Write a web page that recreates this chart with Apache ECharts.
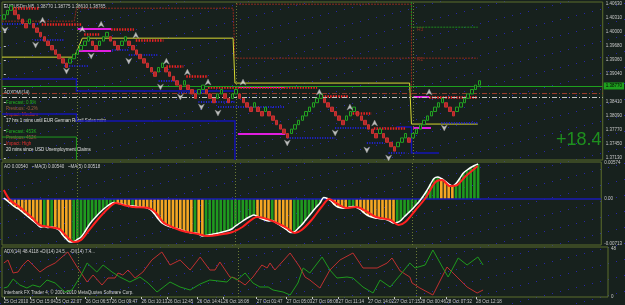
<!DOCTYPE html>
<html><head><meta charset="utf-8">
<script src="https://cdn.jsdelivr.net/npm/echarts@6/dist/echarts.min.js"></script>
<style>html,body{margin:0;padding:0;background:#17211d;}#c{width:625px;height:305px;background-color:#17211d;}</style>
</head><body><div id="c"></div>
<script>
const N_SLOTS = 163;
const brickSize = 0.0010;
const brickBase = 1.3709;
const brickLevels = [33,34,35,33,32,31,30,32,30,29,28,27,26,25,24,23,22,21,23,24,25,26,27,28,26,25,27,28,29,27,26,25,27,28,26,25,24,23,22,21,20,19,21,22,20,19,18,17,16,18,16,15,14,16,17,15,14,13,15,16,14,13,15,16,14,13,12,11,13,11,10,12,10,9,8,7,6,5,7,8,9,10,11,12,13,14,15,13,12,11,10,9,8,10,11,12,10,9,8,7,6,5,7,5,4,3,2,4,5,6,4,6,7,8,9,10,11,12,13,14,12,11,10,12,13,14,15,16,17,18];
const aoValues = [0.00016,-0.00032,-0.00080,-0.00128,-0.00160,-0.00208,-0.00256,-0.00304,-0.00352,-0.00400,-0.00448,-0.00440,-0.00456,-0.00448,-0.00464,-0.00496,-0.00576,-0.00640,-0.00688,-0.00683,-0.00648,-0.00608,-0.00528,-0.00432,-0.00352,-0.00288,-0.00224,-0.00168,-0.00120,-0.00080,-0.00056,-0.00069,-0.00080,-0.00096,-0.00112,-0.00106,-0.00120,-0.00128,-0.00133,-0.00144,-0.00176,-0.00240,-0.00320,-0.00384,-0.00416,-0.00440,-0.00456,-0.00472,-0.00488,-0.00512,-0.00528,-0.00544,-0.00538,-0.00560,-0.00592,-0.00584,-0.00573,-0.00560,-0.00549,-0.00536,-0.00520,-0.00504,-0.00480,-0.00432,-0.00392,-0.00352,-0.00312,-0.00280,-0.00256,-0.00280,-0.00312,-0.00336,-0.00352,-0.00344,-0.00376,-0.00416,-0.00456,-0.00496,-0.00536,-0.00528,-0.00472,-0.00416,-0.00344,-0.00272,-0.00200,-0.00128,-0.00064,0.00024,0.00008,-0.00032,-0.00096,-0.00133,-0.00144,-0.00149,-0.00128,-0.00120,-0.00136,-0.00168,-0.00224,-0.00264,-0.00288,-0.00304,-0.00312,-0.00320,-0.00328,-0.00352,-0.00384,-0.00376,-0.00344,-0.00280,-0.00224,-0.00168,-0.00104,-0.00040,0.00040,0.00128,0.00232,0.00328,0.00352,0.00328,0.00288,0.00240,0.00208,0.00248,0.00328,0.00416,0.00464,0.00504,0.00536,0.00560];
const aoSignal = [[0,0.00144],[1.65,-0.00016],[4.3,-0.00128],[7.8,-0.00304],[9.7,-0.00416],[12.4,-0.00448],[15.1,-0.00480],[17,-0.00592],[19.1,-0.00688],[21,-0.00656],[23.2,-0.00496],[25.9,-0.00304],[28.5,-0.00144],[30.4,-0.00064],[32.6,-0.00096],[35.3,-0.00128],[39.3,-0.00144],[41.2,-0.00208],[43.3,-0.00368],[45.2,-0.00432],[48.7,-0.00512],[52.8,-0.00560],[55.4,-0.00592],[58.2,-0.00576],[62.2,-0.00528],[64.9,-0.00448],[68.9,-0.00288],[71.6,-0.00320],[74.3,-0.00384],[77,-0.00464],[79.1,-0.00544],[81,-0.00496],[83.7,-0.00336],[86.4,-0.00128],[88.5,0],[90.4,-0.00064],[93.1,-0.00144],[95.8,-0.00128],[98.5,-0.00192],[101.2,-0.00288],[105.2,-0.00336],[107.4,-0.00416],[109.2,-0.00368],[112,-0.00176],[114.7,0.00016],[117.4,0.00272],[119.2,0.00304],[121.3,0.00208],[123.3,0.00224],[125.4,0.00352],[127.6,0.00464],[128.9,0.00528]];
const diMinus = [[0,34],[1.1,37],[2.5,24],[3.8,25],[5.1,32],[6.5,37],[7.8,32],[9.7,25],[11.6,30],[13.8,34],[17.2,45],[19.7,30],[22.4,15],[24,22],[26.4,12],[28,19],[29.9,19],[30.7,24],[32,22],[33.4,27],[35.3,19],[37.4,25],[39.8,37],[42.5,45],[44.7,32],[47.4,37],[50.1,27],[52.8,40],[55.4,27],[56.8,27],[58.1,35],[60.8,20],[62.2,19],[64.9,12],[67,20],[69.4,32],[70.8,29],[71.6,34],[72.9,27],[77,44],[79.6,30],[81,20],[82.3,17],[85,9],[87.7,27],[90.4,37],[93.9,44],[96.6,29],[100.4,29],[103.1,34],[104.4,39],[106.6,26],[109.2,20],[109.8,14],[111.9,9],[115.4,2],[119.2,30],[121.9,20],[124.6,10],[127.3,4],[128.9,7]];
const diPlus = [[0,9],[1,10],[2.5,18],[4.3,12],[6.2,9],[7.8,12],[9.7,10],[11.6,17],[13.8,14],[16.4,5],[18.3,7],[20.5,20],[22.4,34],[25,25],[26.7,32],[29.1,25],[31.2,20],[33.9,15],[36.6,20],[38.8,14],[41.2,5],[44.7,15],[47.4,10],[50.1,7],[52.8,13],[55.4,17],[60,15],[61.4,20],[62.7,17],[64.9,24],[67,14],[68.9,10],[71.1,10],[72.4,7],[75.1,5],[77,2],[79.1,14],[80.5,29],[82.3,24],[85.6,40],[87.7,27],[89.6,19],[92.3,20],[93.9,19],[96.6,10],[99.3,4],[101.2,17],[103.9,10],[106.6,22],[109.2,34],[110.6,29],[113.3,32],[115.4,47],[118.1,29],[119.5,20],[122.2,39],[124.6,32],[127.5,40],[128.9,32]];
// pivot-type step lines: [barIndex, price]
const pivotBrown = [[-0.5,1.40243],[19.1,1.40243],[19.7,1.40538],[62.2,1.40538],[62.7,1.39403],[128.6,1.39403]];
const pivotBrownTop = [[63,1.40629],[110.6,1.40629],[110.6,1.38518]];
const pivotGreenR3 = [[110.6,1.40679],[110.6,1.40107],[128.6,1.40107]];
const pivotYellow = [[-0.5,1.39426],[19.1,1.39426],[21.3,1.39857],[62.2,1.39857],[62.7,1.38836],[110.1,1.38836],[110.6,1.37905],[128.6,1.37905]];
const pivotGreenS = [[-0.5,1.37610],[19.7,1.37610],[19.7,1.37088]];
const blueLineA = [[-0.5,1.38927],[19.7,1.38927],[19.7,1.38655],[62.7,1.38655]];
const blueLineB = [[-0.5,1.38132],[19.7,1.38132],[19.7,1.37973],[62.7,1.37973],[62.7,1.37088]];
const blueLineC = [[106.5,1.37837],[110.6,1.37837],[110.6,1.37247],[118.1,1.37247]];
const magentaSegs = [[20,29.1,1.40062],[20,29.1,1.39562],[63.5,76.4,1.38745],[63.5,76.4,1.37678],[111.1,115.4,1.38518],[111.1,115.9,1.37814]];
const resistSegs = [[1.65,9.7,1.40538],[10.3,21,1.40175],[21.8,25.9,1.39948],[29.1,35.3,1.40062],[35.8,43.3,1.39812],[44.1,48.7,1.39222],[49.5,55.4,1.38995],[55.4,85,1.38745],[85.6,93.6,1.38541],[93.9,99.8,1.38155],[100.4,109.2,1.37814],[115.4,128.6,1.38518]];
const supportSegs = [[-0.5,9.7,1.40175],[8.4,16.4,1.39812],[16.4,23.2,1.39222],[29.4,33.9,1.39585],[33.9,42,1.39472],[42,47.4,1.38881],[47.4,55.4,1.38609],[52.8,62.7,1.38405],[58.1,76.4,1.38291],[76.9,89.9,1.37587],[89.9,98.5,1.37814],[98.5,103.1,1.37474],[104.4,109.2,1.37247],[118.7,128.6,1.37928]];
const upArrows = [[10.5,1.40266],[21.3,1.40062],[26.4,1.40175],[35.8,1.39926],[44.1,1.39335],[49.8,1.39086],[55.4,1.38859],[64.9,1.38859],[85.6,1.38632],[93.9,1.38291],[100.6,1.37928],[115.4,1.38632]];
const downArrows = [[0.3,1.40039],[8.6,1.39699],[17,1.39108],[23.7,1.39449],[33.9,1.39335],[42.5,1.38745],[47.9,1.38518],[53.6,1.38291],[58.1,1.38155],[76.9,1.37474],[89.9,1.37701],[98.5,1.37315],[104.4,1.37133],[119.5,1.37814]];
const levelBrownDashDot = 1.38609;
const levelGreyDashDot = 1.38518;
const timeLabels = ["25 Oct 2010","25 Oct 15:04","25 Oct 22:07","26 Oct 06:57","26 Oct 09:47","26 Oct 10:13","26 Oct 12:45","26 Oct 14:41","26 Oct 18:08","27 Oct 01:47","27 Oct 05:03","27 Oct 08:08","27 Oct 11:14","27 Oct 14:02","27 Oct 17:15","28 Oct 00:46","28 Oct 07:32","28 Oct 12:18"];
const timeLabelIdx = [0,7,14,22,29,37,44,52,59,68,76,83,90,98,105,112,119,127];
const priceTicks = [1.3713,1.3745,1.3777,1.3809,1.3841,1.3872,1.3904,1.3936,1.3968,1.4000,1.4031,1.4063];
const aoTicks = [-0.00713,0,0.00574];
const adxTicks = [0,48];
const daySeparatorIdx = [20,63,111];
const currentPrice = 1.3877;

// decorative dotted background texture (diagonal rows of dark-blue dots)
(function () {
  const t = document.createElement('canvas');
  t.width = 64; t.height = 16;
  const g = t.getContext('2d');
  g.fillStyle = '#2626a6';
  for (let x = 0; x < 64; x += 8) g.fillRect(x, 15 - Math.floor(x / 4), 1, 1);
  document.getElementById('c').style.backgroundImage = 'url(' + t.toDataURL() + ')';
})();

const cats = Array.from({length:N_SLOTS}, () => '');
timeLabelIdx.forEach((k, j) => { cats[k] = timeLabels[j]; });

const candles = brickLevels.map((L, i) => {
  const up = i === 0 ? true : L > brickLevels[i - 1];
  const close = brickBase + L * brickSize;
  const open = up ? close - brickSize : close + brickSize;
  return [open, close, Math.min(open, close), Math.max(open, close)];
});
const aoBars = aoValues.map((v, i) => ({
  value: v,
  itemStyle: { color: (i > 0 && v > aoValues[i - 1]) ? '#1f9a1f' : '#f5a623' }
}));

const FONT = 'Liberation Sans';
const OLIVE = '#5d6e2c';
const SEP_STYLE = { color: '#6b7a35', type: [1, 2], width: 1 };
const sepLine = () => ({
  silent: true, symbol: 'none', precision: 6,
  lineStyle: SEP_STYLE,
  label: { show: false },
  data: daySeparatorIdx.map(v => ({ xAxis: v }))
});
const hiddenCat = (g) => ({ type:'category', gridIndex:g, data:cats, boundaryGap:true, axisLine:{show:false}, axisTick:{show:false}, axisLabel:{show:false}, splitLine:{show:false} });
const hiddenVal = (g) => ({ type:'value', gridIndex:g, min:-0.5, max:N_SLOTS-0.5, show:false });
const yLab = { fontSize: 4.5, color: '#c8c8c8', fontFamily: FONT, margin: 3 };
const segLines = (segs, color, width, type, z) => ({
  type:'lines', coordinateSystem:'cartesian2d', xAxisIndex:1, yAxisIndex:0, silent:true, z: z || 3,
  lineStyle:{ color, width, type, opacity:1 },
  data: segs.map(s => ({ coords: [[s[0], s[2]], [s[1], s[2]]] }))
});
const polyLine = (pts, color, width, type) => ({
  type:'lines', coordinateSystem:'cartesian2d', xAxisIndex:1, yAxisIndex:0, polyline:true, silent:true, z:2,
  lineStyle:{ color, width, type, opacity:1 },
  data: [{ coords: pts }]
});
const arrowPath = 'path://M5,0 L10,10 L5,7 L0,10 Z';

const mainMarkLines = [
  ...daySeparatorIdx.map(v => ({ xAxis: v, lineStyle: SEP_STYLE, label: { show:false } })),
  { yAxis: levelBrownDashDot, lineStyle:{ color:'#9a3a2a', type:[5,2,1,2], width:1 }, label:{ show:false } },
  { yAxis: levelGreyDashDot, lineStyle:{ color:'#c8c8c8', type:[5,2,1,2], width:1 }, label:{ show:false } },
  { yAxis: currentPrice, lineStyle:{ color:'#1ea01e', type:'solid', width:1 },
    label:{ show:true, position:'end', formatter: () => currentPrice.toFixed(5), backgroundColor:'#1ea01e', color:'#000', fontSize:4.5, fontFamily:FONT, padding:[1,2], distance:1 } }
];

const option = {
  backgroundColor: 'transparent',
  animation: false,
  grid: [
    { left:2, top:2, width:606, height:158, show:true, borderColor:OLIVE, borderWidth:1, backgroundColor:'transparent' },
    { left:2, top:162, width:606, height:83, show:true, borderColor:OLIVE, borderWidth:1, backgroundColor:'transparent' },
    { left:2, top:247, width:606, height:50, show:true, borderColor:OLIVE, borderWidth:1, backgroundColor:'transparent' }
  ],
  xAxis: [
    hiddenCat(0), hiddenVal(0), hiddenCat(1), hiddenVal(1),
    { type:'category', gridIndex:2, data:cats, boundaryGap:true, axisLine:{show:false},
      axisTick:{show:true, alignWithLabel:true, interval:(i, v) => v !== '', length:2, lineStyle:{color:'#c8c8c8'}},
      axisLabel:{show:true, interval:0, fontSize:4.5, color:'#c8c8c8', fontFamily:FONT, align:'left', margin:2},
      splitLine:{show:false} },
    hiddenVal(2)
  ],
  yAxis: [
    { type:'value', gridIndex:0, position:'right', min:1.37088, max:1.40679, scale:true, splitLine:{show:false}, axisLine:{show:false},
      axisTick:{show:true, customValues:priceTicks, length:2, lineStyle:{color:'#c8c8c8'}},
      axisLabel:Object.assign({ customValues:priceTicks, formatter:v => v.toFixed(5) }, yLab) },
    { type:'value', gridIndex:1, position:'right', min:-0.00736, max:0.00592, splitLine:{show:false}, axisLine:{show:false},
      axisTick:{show:false},
      axisLabel:Object.assign({ customValues:aoTicks, formatter:v => v === 0 ? '0.00' : v.toFixed(5) }, yLab) },
    { type:'value', gridIndex:2, position:'right', min:0, max:50, splitLine:{show:false}, axisLine:{show:false},
      axisTick:{show:false},
      axisLabel:Object.assign({ customValues:adxTicks, formatter:v => String(v) }, yLab) }
  ],
  series: [
    polyLine(pivotBrown, '#8e2a1e', 1, [2,1]),
    polyLine(pivotBrownTop, '#8e2a1e', 1, [2,1]),
    polyLine(pivotGreenR3, '#1f8a1f', 1, [2,1]),
    polyLine(pivotYellow, '#d8d832', 1, 'solid'),
    polyLine(pivotGreenS, '#1f9a1f', 1, 'solid'),
    polyLine(blueLineA, '#1414b4', 1.5, 'solid'),
    polyLine(blueLineB, '#1414b4', 1.5, 'solid'),
    polyLine(blueLineC, '#1414b4', 1.5, 'solid'),
    segLines(magentaSegs, '#e01ee0', 2, 'solid', 3),
    segLines(supportSegs, '#2222e0', 2, [1,1.5], 4),
    segLines(resistSegs, '#ee2222', 2.5, [1.5,1.2], 4),
    { type:'candlestick', xAxisIndex:0, yAxisIndex:0, data:candles, barWidth:3, z:5,
      itemStyle:{ color:'#17211d', color0:'#b52828', borderColor:'#22a322', borderColor0:'#c83232', borderWidth:1 },
      markLine:{ silent:true, symbol:'none', precision:6, data: mainMarkLines } },
    { type:'scatter', xAxisIndex:1, yAxisIndex:0, data:upArrows, symbol:arrowPath, symbolSize:[6,6], z:8,
      itemStyle:{ color:'#e8e8e8', borderColor:'#909090', borderWidth:0.5 } },
    { type:'scatter', xAxisIndex:1, yAxisIndex:0, data:downArrows, symbol:arrowPath, symbolSize:[6,6], symbolRotate:180, z:8,
      itemStyle:{ color:'#e8e8e8', borderColor:'#909090', borderWidth:0.5 } },
    { type:'bar', xAxisIndex:2, yAxisIndex:1, data:aoBars, barWidth:2.6,
      markLine:{ silent:true, symbol:'none', precision:6, lineStyle:{color:'#1a1ab4', type:'solid', width:1.5}, label:{show:false}, data:[{ yAxis: 0 }] } },
    { type:'line', xAxisIndex:2, yAxisIndex:1, data:aoValues, symbol:'none', smooth:0.3, lineStyle:{color:'#ffffff', width:1.5}, z:5, markLine: sepLine() },
    { type:'line', xAxisIndex:3, yAxisIndex:1, data:aoSignal, symbol:'none', smooth:0.3, lineStyle:{color:'#ff2020', width:2}, z:6 },
    { type:'line', xAxisIndex:5, yAxisIndex:2, data:diMinus, symbol:'none', lineStyle:{color:'#c03030', width:1}, markLine: sepLine() },
    { type:'line', xAxisIndex:5, yAxisIndex:2, data:diPlus, symbol:'none', lineStyle:{color:'#1f9a1f', width:1} }
  ],
  graphic: [
    { type:'text', left:4, top:4, style:{ text:'EURUSDm,M5  1.38770 1.38775 1.38610 1.38765', fill:'#d0d0d0', font:'4.5px '+FONT } },
    { type:'text', left:4, top:90, style:{ text:'ADXDMI(14)', fill:'#d0d0d0', font:'4.5px '+FONT } },
    { type:'text', left:4, top:164, style:{ text:'AO 0.00540   ~MA(3) 0.00540   ~MA(5) 0.00518', fill:'#d0d0d0', font:'4.5px '+FONT } },
    { type:'text', left:4, top:249, style:{ text:'ADX(14) 48.4118 +DI(14) 24.5... -DI(14) 7.4...', fill:'#d0d0d0', font:'4.5px '+FONT } },
    { type:'text', left:4, top:290, style:{ text:'Interbank FX Trader 4, © 2001-2010 MetaQuotes Software Corp.', fill:'#d0d0d0', font:'4.5px '+FONT } },
    { type:'text', left:6, top:100, style:{ text:'Forecast: 0.9%', fill:'#22b422', font:'4.5px '+FONT } },
    { type:'text', left:6, top:106, style:{ text:'Previous: -0.2%', fill:'#a06040', font:'4.5px '+FONT } },
    { type:'text', left:6, top:112, style:{ text:'Impact: Medium', fill:'#e03030', font:'4.5px '+FONT } },
    { type:'text', left:6, top:118, style:{ text:'17 hrs 1 mins until EUR German Retail Sales m/m', fill:'#e0e0e0', font:'4.5px '+FONT } },
    { type:'text', left:6, top:129, style:{ text:'Forecast: 453K', fill:'#22b422', font:'4.5px '+FONT } },
    { type:'text', left:6, top:135, style:{ text:'Previous: 452K', fill:'#a06040', font:'4.5px '+FONT } },
    { type:'text', left:6, top:141, style:{ text:'Impact: High', fill:'#e03030', font:'4.5px '+FONT } },
    { type:'text', left:6, top:147, style:{ text:'20 mins since USD Unemployment Claims', fill:'#e0e0e0', font:'4.5px '+FONT } },
    { type:'text', left:556, top:131, style:{ text:'+18.4', fill:'#1e8f1e', font:'18px '+FONT } },
    { type:'text', left:417, top:57, style:{ text:'R2', fill:'#8e2a1e', font:'5px '+FONT } },
    { type:'text', left:417, top:27, style:{ text:'R3', fill:'#8e2a1e', font:'5px '+FONT } }
  ]
};
echarts.init(document.getElementById('c')).setOption(option);
</script></body></html>
